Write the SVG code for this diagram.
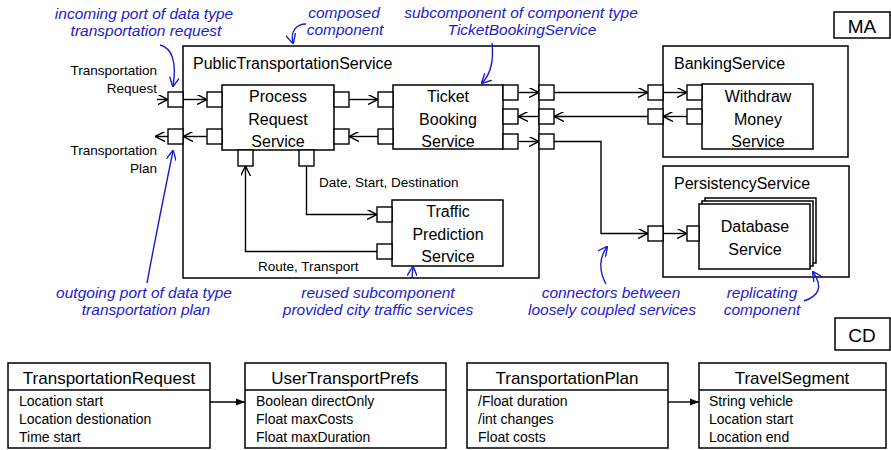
<svg xmlns="http://www.w3.org/2000/svg" width="891" height="450" viewBox="0 0 891 450">
<style>
.box{fill:#fff;stroke:#000;stroke-width:1.5}
.port{fill:#fff;stroke:#000;stroke-width:1.4}
.con{fill:none;stroke:#000;stroke-width:1.4}
.bl{fill:none;stroke:#1c1ccc;stroke-width:1.4}
.t{font-family:"Liberation Sans",Arial,sans-serif;fill:#000}
.lbl{font-size:16px;text-anchor:middle}
.title{font-size:16px}
.sm{font-size:13.5px}
.ann{font-family:"Liberation Sans",Arial,sans-serif;font-style:italic;font-size:15.5px;fill:#1c1ccc;text-anchor:middle}
.ct{font-size:17px;text-anchor:middle}
.at{font-size:14px}
</style>
<defs>
<marker id="oa" viewBox="0 0 10 10" refX="10" refY="5" markerWidth="10" markerHeight="10" markerUnits="userSpaceOnUse" orient="auto">
<path d="M0,0 L10,5 L0,10" fill="none" stroke="#000" stroke-width="1.4"/>
</marker>
<marker id="ba" viewBox="0 0 10 10" refX="9" refY="5" markerWidth="10" markerHeight="10" markerUnits="userSpaceOnUse" orient="auto">
<path d="M0,0 L10,5 L0,10" fill="none" stroke="#1c1ccc" stroke-width="1.4"/>
</marker>
<marker id="fa" viewBox="0 0 10 10" refX="10" refY="5" markerWidth="9" markerHeight="9" markerUnits="userSpaceOnUse" orient="auto">
<path d="M0,1 L10,5 L0,9 Z" fill="#000"/>
</marker>
</defs>

<g id="ma-label">
<rect class="box" x="834" y="12" width="56" height="26"/>
<text class="t" x="862" y="33" font-size="19" text-anchor="middle">MA</text>
</g>

<g id="public-transportation-service">
<rect class="box" x="183" y="46" width="356" height="232"/>
<text class="t title" x="193" y="69">PublicTransportationService</text>
<rect class="port" x="168" y="92" width="15" height="15"/>
<rect class="port" x="168" y="129" width="15" height="15"/>
<rect class="port" x="539" y="85" width="15" height="15"/>
<rect class="port" x="539" y="109" width="15" height="15"/>
<rect class="port" x="539" y="134" width="15" height="15"/>
</g>

<g id="process-request-service">
<rect class="box" x="222" y="85" width="112" height="65"/>
<text class="t lbl" x="278" y="102">Process</text>
<text class="t lbl" x="278" y="125">Request</text>
<text class="t lbl" x="278" y="147">Service</text>
<rect class="port" x="207" y="92" width="15" height="15"/>
<rect class="port" x="207" y="129" width="15" height="15"/>
<rect class="port" x="334" y="92" width="15" height="15"/>
<rect class="port" x="334" y="129" width="15" height="15"/>
<rect class="port" x="238" y="150" width="15" height="16"/>
<rect class="port" x="299" y="150" width="15" height="16"/>
</g>

<g id="ticket-booking-service">
<rect class="box" x="393" y="85" width="110" height="64"/>
<text class="t lbl" x="448" y="102">Ticket</text>
<text class="t lbl" x="448" y="125">Booking</text>
<text class="t lbl" x="448" y="147">Service</text>
<rect class="port" x="378" y="92" width="15" height="15"/>
<rect class="port" x="378" y="129" width="15" height="15"/>
<rect class="port" x="503" y="85" width="15" height="15"/>
<rect class="port" x="503" y="109" width="15" height="15"/>
<rect class="port" x="503" y="134" width="15" height="15"/>
</g>

<g id="traffic-prediction-service">
<rect class="box" x="392" y="200" width="111" height="66"/>
<text class="t lbl" x="448" y="217">Traffic</text>
<text class="t lbl" x="448" y="240">Prediction</text>
<text class="t lbl" x="448" y="262">Service</text>
<rect class="port" x="377" y="207" width="15" height="15"/>
<rect class="port" x="377" y="244" width="15" height="15"/>
</g>

<g id="banking-service">
<rect class="box" x="663" y="46" width="185" height="111"/>
<text class="t title" x="674" y="69">BankingService</text>
<rect class="port" x="648" y="85" width="15" height="15"/>
<rect class="port" x="648" y="109" width="15" height="15"/>
</g>

<g id="withdraw-money-service">
<rect class="box" x="702" y="84" width="111" height="65"/>
<text class="t lbl" x="758" y="102">Withdraw</text>
<text class="t lbl" x="758" y="125">Money</text>
<text class="t lbl" x="758" y="147">Service</text>
<rect class="port" x="687" y="85" width="15" height="15"/>
<rect class="port" x="687" y="109" width="15" height="15"/>
</g>

<g id="persistency-service">
<rect class="box" x="663" y="166" width="186" height="111"/>
<text class="t title" x="674" y="189">PersistencyService</text>
<rect class="port" x="648" y="226" width="15" height="15"/>
</g>

<g id="database-service">
<rect class="box" x="705" y="198" width="111" height="65"/>
<rect class="box" x="702" y="201" width="111" height="65"/>
<rect class="box" x="699" y="204" width="111" height="65"/>
<text class="t lbl" x="755" y="232">Database</text>
<text class="t lbl" x="755" y="255">Service</text>
<rect class="port" x="687" y="226" width="12" height="15"/>
</g>

<g id="connectors">
<line class="con" x1="157" y1="99.5" x2="168" y2="99.5" marker-end="url(#oa)"/>
<line class="con" x1="168" y1="136.5" x2="155" y2="136.5" marker-end="url(#oa)"/>
<line class="con" x1="183" y1="99.5" x2="207" y2="99.5" marker-end="url(#oa)"/>
<line class="con" x1="207" y1="136.5" x2="183" y2="136.5" marker-end="url(#oa)"/>
<line class="con" x1="349" y1="99.5" x2="378" y2="99.5" marker-end="url(#oa)"/>
<line class="con" x1="378" y1="136.5" x2="349" y2="136.5" marker-end="url(#oa)"/>
<line class="con" x1="518" y1="92.5" x2="539" y2="92.5" marker-end="url(#oa)"/>
<line class="con" x1="539" y1="116.5" x2="518" y2="116.5" marker-end="url(#oa)"/>
<line class="con" x1="518" y1="141.5" x2="539" y2="141.5" marker-end="url(#oa)"/>
<line class="con" x1="554" y1="92.5" x2="648" y2="92.5" marker-end="url(#oa)"/>
<line class="con" x1="648" y1="116.5" x2="554" y2="116.5" marker-end="url(#oa)"/>
<line class="con" x1="663" y1="92.5" x2="687" y2="92.5" marker-end="url(#oa)"/>
<line class="con" x1="687" y1="116.5" x2="663" y2="116.5" marker-end="url(#oa)"/>
<polyline class="con" points="554,141.5 601,141.5 601,233.5 648,233.5" marker-end="url(#oa)"/>
<line class="con" x1="663" y1="233.5" x2="687" y2="233.5" marker-end="url(#oa)"/>
<polyline class="con" points="306.5,166 306.5,214.5 377,214.5" marker-end="url(#oa)"/>
<polyline class="con" points="377,251.5 245.5,251.5 245.5,166" marker-end="url(#oa)"/>
<text class="t sm" x="319" y="187">Date, Start, Destination</text>
<text class="t sm" x="258" y="271">Route, Transport</text>
</g>

<g id="port-labels">
<text class="t sm" x="157" y="75" text-anchor="end">Transportation</text>
<text class="t sm" x="157" y="93" text-anchor="end">Request</text>
<text class="t sm" x="157" y="155" text-anchor="end">Transportation</text>
<text class="t sm" x="157" y="173" text-anchor="end">Plan</text>
</g>

<g id="annotations">
<text class="ann" x="144" y="19">incoming port of data type</text>
<text class="ann" x="146" y="36">transportation request</text>
<path class="bl" d="M160,45 C172,48 177,62 173,86" marker-end="url(#ba)"/>
<text class="ann" x="344" y="18">composed</text>
<text class="ann" x="345" y="35">component</text>
<path class="bl" d="M306,24 C296,24 290,32 293,43" marker-end="url(#ba)"/>
<text class="ann" x="521" y="18">subcomponent of component type</text>
<text class="ann" x="522" y="35">TicketBookingService</text>
<path class="bl" d="M492,43 C494,62 490,75 482,83" marker-end="url(#ba)"/>
<text class="ann" x="144" y="298">outgoing port of data type</text>
<text class="ann" x="146" y="315">transportation plan</text>
<path class="bl" d="M147,283 C155,240 165,190 173,151" marker-end="url(#ba)"/>
<text class="ann" x="378" y="298">reused subcomponent</text>
<text class="ann" x="378" y="315">provided city traffic services</text>
<path class="bl" d="M412,278 L413,267" marker-end="url(#ba)"/>
<text class="ann" x="611" y="298">connectors between</text>
<text class="ann" x="612" y="315">loosely coupled services</text>
<path class="bl" d="M606,284 C598,270 600,256 607,247" marker-end="url(#ba)"/>
<text class="ann" x="762" y="298">replicating</text>
<text class="ann" x="762" y="315">component</text>
<path class="bl" d="M804,301 C818,296 824,288 813,272" marker-end="url(#ba)"/>
</g>

<g id="cd-label">
<rect class="box" x="835" y="318" width="55" height="32"/>
<text class="t" x="862" y="342" font-size="19" text-anchor="middle">CD</text>
</g>

<g id="class-transportation-request">
<rect class="box" x="8" y="363" width="202" height="85"/>
<line class="con" x1="8" y1="390" x2="210" y2="390"/>
<text class="t ct" x="109" y="384">TransportationRequest</text>
<text class="t at" x="19" y="406">Location start</text>
<text class="t at" x="19" y="424">Location destionation</text>
<text class="t at" x="19" y="442">Time start</text>
</g>

<g id="class-user-transport-prefs">
<rect class="box" x="245" y="363" width="201" height="85"/>
<line class="con" x1="245" y1="390" x2="446" y2="390"/>
<text class="t ct" x="345" y="384">UserTransportPrefs</text>
<text class="t at" x="256" y="406">Boolean directOnly</text>
<text class="t at" x="256" y="424">Float maxCosts</text>
<text class="t at" x="256" y="442">Float maxDuration</text>
</g>

<g id="class-transportation-plan">
<rect class="box" x="467" y="363" width="201" height="85"/>
<line class="con" x1="467" y1="390" x2="668" y2="390"/>
<text class="t ct" x="567" y="384">TransportationPlan</text>
<text class="t at" x="478" y="406">/Float duration</text>
<text class="t at" x="478" y="424">/int changes</text>
<text class="t at" x="478" y="442">Float costs</text>
</g>

<g id="class-travel-segment">
<rect class="box" x="699" y="363" width="187" height="85"/>
<line class="con" x1="699" y1="390" x2="886" y2="390"/>
<text class="t ct" x="792" y="384">TravelSegment</text>
<text class="t at" x="709" y="406">String vehicle</text>
<text class="t at" x="709" y="424">Location start</text>
<text class="t at" x="709" y="442">Location end</text>
</g>

<g id="class-connectors">
<line class="con" x1="210" y1="402" x2="245" y2="402" marker-end="url(#fa)"/>
<line class="con" x1="668" y1="402" x2="699" y2="402" marker-end="url(#fa)"/>
</g>
</svg>
